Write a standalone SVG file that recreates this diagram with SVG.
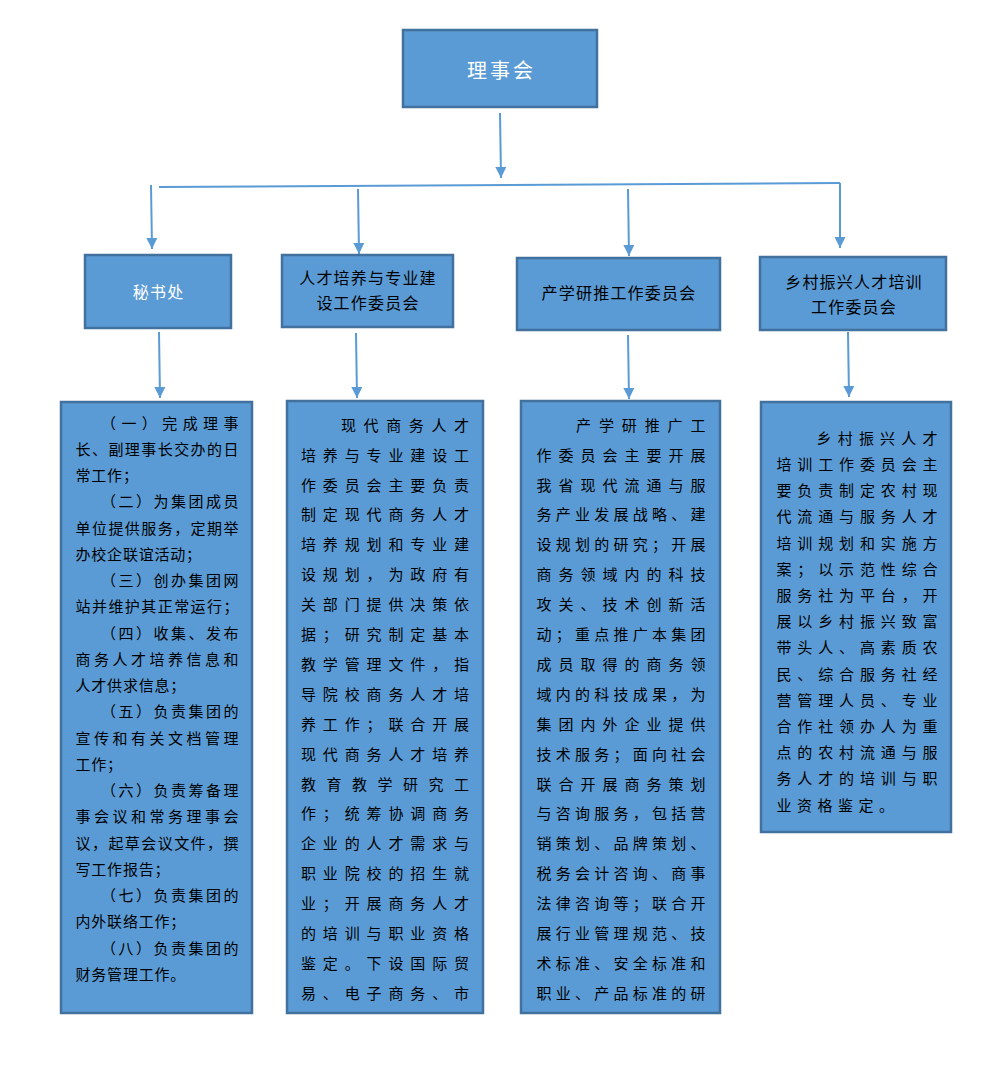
<svg xmlns="http://www.w3.org/2000/svg" width="992" height="1088" viewBox="0 0 992 1088">
<defs>
<marker id="ah" markerUnits="userSpaceOnUse" markerWidth="12" markerHeight="12" viewBox="0 0 12 12" refX="11" refY="6" orient="auto">
<path d="M0,0.5 L11,6 L0,11.5 Z" fill="#5B9BD5"/>
</marker>
<style>
.box{fill:#5B9BD5;stroke:#41719C;stroke-width:2.5}
.con{stroke:#5B9BD5;stroke-width:2;fill:none}
.arr{stroke:#5B9BD5;stroke-width:2;fill:none;marker-end:url(#ah)}
text{font-family:"Noto Sans CJK SC","Noto Sans CJK TC",sans-serif}
.hw{fill:#ffffff;font-size:16px;text-anchor:middle;letter-spacing:1.2px}
.hb{fill:#000000;font-size:16px;text-anchor:middle;letter-spacing:1.2px}
.t{fill:#000000;font-size:15px}
.l1{letter-spacing:0.8px}
.l4{letter-spacing:5.5px}
</style>
</defs>
<rect width="992" height="1088" fill="#ffffff"/>

<g id="connectors">
<line class="arr" x1="500" y1="113" x2="501" y2="178"/>
<line class="con" x1="159" y1="187" x2="840" y2="183"/>
<line class="arr" x1="151" y1="185" x2="152" y2="249"/>
<line class="arr" x1="358" y1="189" x2="359" y2="254"/>
<line class="arr" x1="628" y1="189" x2="629" y2="256"/>
<line class="arr" x1="840" y1="183" x2="840" y2="248"/>
<line class="arr" x1="159" y1="332" x2="160" y2="398"/>
<line class="arr" x1="356" y1="333" x2="357" y2="398"/>
<line class="arr" x1="628" y1="335" x2="629" y2="399"/>
<line class="arr" x1="848" y1="332" x2="849" y2="397"/>
</g>

<g id="lishihui">
<rect class="box" x="403" y="30" width="194" height="77"/>
<text x="501.5" y="77.5" fill="#ffffff" font-size="20" text-anchor="middle" letter-spacing="3">理事会</text>
</g>

<g id="mishuchu">
<rect class="box" x="85" y="255" width="146" height="73"/>
<text class="hw" x="158.6" y="297.7">秘书处</text>
</g>

<g id="rencai">
<rect class="box" x="282" y="255" width="171" height="72"/>
<text class="hb" x="368" y="284">人才培养与专业建</text>
<text class="hb" x="368" y="309">设工作委员会</text>
</g>

<g id="chanxueyan">
<rect class="box" x="517" y="258" width="203" height="72"/>
<text class="hb" x="619" y="299">产学研推工作委员会</text>
</g>

<g id="xiangcun">
<rect class="box" x="760" y="257" width="186" height="73"/>
<text class="hb" x="854" y="288">乡村振兴人才培训</text>
<text class="hb" x="854" y="313">工作委员会</text>
</g>

<g id="mishuchu-duties">
<rect class="box" x="61" y="402" width="191" height="611"/>
<text class="t" x="101" y="428.7" textLength="137.5" lengthAdjust="spacing">（一）完成理事</text>
<text class="t" x="75.5" y="454.9" textLength="163" lengthAdjust="spacing">长、副理事长交办的日</text>
<text class="t l1" x="75.5" y="481.2">常工作；</text>
<text class="t" x="101" y="507.4" textLength="137.5" lengthAdjust="spacing">（二）为集团成员</text>
<text class="t" x="75.5" y="533.7" textLength="163" lengthAdjust="spacing">单位提供服务，定期举</text>
<text class="t l1" x="75.5" y="559.9">办校企联谊活动；</text>
<text class="t" x="101" y="586.1" textLength="137.5" lengthAdjust="spacing">（三）创办集团网</text>
<text class="t" x="75.5" y="612.4" textLength="163" lengthAdjust="spacing">站并维护其正常运行；</text>
<text class="t" x="101" y="638.6" textLength="137.5" lengthAdjust="spacing">（四）收集、发布</text>
<text class="t" x="75.5" y="664.9" textLength="163" lengthAdjust="spacing">商务人才培养信息和</text>
<text class="t l1" x="75.5" y="691.1">人才供求信息；</text>
<text class="t" x="101" y="717.3" textLength="137.5" lengthAdjust="spacing">（五）负责集团的</text>
<text class="t" x="75.5" y="743.6" textLength="163" lengthAdjust="spacing">宣传和有关文档管理</text>
<text class="t l1" x="75.5" y="769.8">工作；</text>
<text class="t" x="101" y="796.1" textLength="137.5" lengthAdjust="spacing">（六）负责筹备理</text>
<text class="t" x="75.5" y="822.3" textLength="163" lengthAdjust="spacing">事会议和常务理事会</text>
<text class="t" x="75.5" y="848.5" textLength="163" lengthAdjust="spacing">议，起草会议文件，撰</text>
<text class="t l1" x="75.5" y="874.8">写工作报告；</text>
<text class="t" x="101" y="901.0" textLength="137.5" lengthAdjust="spacing">（七）负责集团的</text>
<text class="t l1" x="75.5" y="927.3">内外联络工作；</text>
<text class="t" x="101" y="953.5" textLength="137.5" lengthAdjust="spacing">（八）负责集团的</text>
<text class="t l1" x="75.5" y="979.7">财务管理工作。</text>
</g>

<g id="rencai-duties">
<rect class="box" x="287" y="401" width="196" height="612"/>
<text class="t" x="341" y="430.7" textLength="128" lengthAdjust="spacing">现代商务人才</text>
<text class="t" x="301" y="460.6" textLength="168" lengthAdjust="spacing">培养与专业建设工</text>
<text class="t" x="301" y="490.5" textLength="168" lengthAdjust="spacing">作委员会主要负责</text>
<text class="t" x="301" y="520.4" textLength="168" lengthAdjust="spacing">制定现代商务人才</text>
<text class="t" x="301" y="550.3" textLength="168" lengthAdjust="spacing">培养规划和专业建</text>
<text class="t" x="301" y="580.2" textLength="168" lengthAdjust="spacing">设规划，为政府有</text>
<text class="t" x="301" y="610.1" textLength="168" lengthAdjust="spacing">关部门提供决策依</text>
<text class="t" x="301" y="640.0" textLength="168" lengthAdjust="spacing">据；研究制定基本</text>
<text class="t" x="301" y="669.9" textLength="168" lengthAdjust="spacing">教学管理文件，指</text>
<text class="t" x="301" y="699.8" textLength="168" lengthAdjust="spacing">导院校商务人才培</text>
<text class="t" x="301" y="729.7" textLength="168" lengthAdjust="spacing">养工作；联合开展</text>
<text class="t" x="301" y="759.6" textLength="168" lengthAdjust="spacing">现代商务人才培养</text>
<text class="t" x="301" y="789.5" textLength="168" lengthAdjust="spacing">教育教学研究工</text>
<text class="t" x="301" y="819.4" textLength="168" lengthAdjust="spacing">作；统筹协调商务</text>
<text class="t" x="301" y="849.3" textLength="168" lengthAdjust="spacing">企业的人才需求与</text>
<text class="t" x="301" y="879.2" textLength="168" lengthAdjust="spacing">职业院校的招生就</text>
<text class="t" x="301" y="909.1" textLength="168" lengthAdjust="spacing">业；开展商务人才</text>
<text class="t" x="301" y="939.0" textLength="168" lengthAdjust="spacing">的培训与职业资格</text>
<text class="t" x="301" y="968.9" textLength="168" lengthAdjust="spacing">鉴定。下设国际贸</text>
<text class="t" x="301" y="998.8" textLength="168" lengthAdjust="spacing">易、电子商务、市</text>
</g>

<g id="chanxueyan-duties">
<rect class="box" x="521" y="401" width="199" height="612"/>
<text class="t" x="576" y="430.7" textLength="129.5" lengthAdjust="spacing">产学研推广工</text>
<text class="t" x="536.5" y="460.6" textLength="169" lengthAdjust="spacing">作委员会主要开展</text>
<text class="t" x="536.5" y="490.5" textLength="169" lengthAdjust="spacing">我省现代流通与服</text>
<text class="t" x="536.5" y="520.4" textLength="169" lengthAdjust="spacing">务产业发展战略、建</text>
<text class="t" x="536.5" y="550.3" textLength="169" lengthAdjust="spacing">设规划的研究；开展</text>
<text class="t" x="536.5" y="580.2" textLength="169" lengthAdjust="spacing">商务领域内的科技</text>
<text class="t" x="536.5" y="610.1" textLength="169" lengthAdjust="spacing">攻关、技术创新活</text>
<text class="t" x="536.5" y="640.0" textLength="169" lengthAdjust="spacing">动；重点推广本集团</text>
<text class="t" x="536.5" y="669.9" textLength="169" lengthAdjust="spacing">成员取得的商务领</text>
<text class="t" x="536.5" y="699.8" textLength="169" lengthAdjust="spacing">域内的科技成果，为</text>
<text class="t" x="536.5" y="729.7" textLength="169" lengthAdjust="spacing">集团内外企业提供</text>
<text class="t" x="536.5" y="759.6" textLength="169" lengthAdjust="spacing">技术服务；面向社会</text>
<text class="t" x="536.5" y="789.5" textLength="169" lengthAdjust="spacing">联合开展商务策划</text>
<text class="t" x="536.5" y="819.4" textLength="169" lengthAdjust="spacing">与咨询服务，包括营</text>
<text class="t" x="536.5" y="849.3" textLength="169" lengthAdjust="spacing">销策划、品牌策划、</text>
<text class="t" x="536.5" y="879.2" textLength="169" lengthAdjust="spacing">税务会计咨询、商事</text>
<text class="t" x="536.5" y="909.1" textLength="169" lengthAdjust="spacing">法律咨询等；联合开</text>
<text class="t" x="536.5" y="939.0" textLength="169" lengthAdjust="spacing">展行业管理规范、技</text>
<text class="t" x="536.5" y="968.9" textLength="169" lengthAdjust="spacing">术标准、安全标准和</text>
<text class="t" x="536.5" y="998.8" textLength="169" lengthAdjust="spacing">职业、产品标准的研</text>
</g>

<g id="xiangcun-duties">
<rect class="box" x="761" y="402" width="190" height="430"/>
<text class="t" x="816.5" y="443.7" textLength="121" lengthAdjust="spacing">乡村振兴人才</text>
<text class="t" x="776.5" y="469.9" textLength="161" lengthAdjust="spacing">培训工作委员会主</text>
<text class="t" x="776.5" y="496.1" textLength="161" lengthAdjust="spacing">要负责制定农村现</text>
<text class="t" x="776.5" y="522.3" textLength="161" lengthAdjust="spacing">代流通与服务人才</text>
<text class="t" x="776.5" y="548.5" textLength="161" lengthAdjust="spacing">培训规划和实施方</text>
<text class="t" x="776.5" y="574.7" textLength="161" lengthAdjust="spacing">案；以示范性综合</text>
<text class="t" x="776.5" y="600.9" textLength="161" lengthAdjust="spacing">服务社为平台，开</text>
<text class="t" x="776.5" y="627.1" textLength="161" lengthAdjust="spacing">展以乡村振兴致富</text>
<text class="t" x="776.5" y="653.3" textLength="161" lengthAdjust="spacing">带头人、高素质农</text>
<text class="t" x="776.5" y="679.5" textLength="161" lengthAdjust="spacing">民、综合服务社经</text>
<text class="t" x="776.5" y="705.7" textLength="161" lengthAdjust="spacing">营管理人员、专业</text>
<text class="t" x="776.5" y="731.9" textLength="161" lengthAdjust="spacing">合作社领办人为重</text>
<text class="t" x="776.5" y="758.1" textLength="161" lengthAdjust="spacing">点的农村流通与服</text>
<text class="t" x="776.5" y="784.3" textLength="161" lengthAdjust="spacing">务人才的培训与职</text>
<text class="t l4" x="776.5" y="810.5">业资格鉴定。</text>
</g>
</svg>
